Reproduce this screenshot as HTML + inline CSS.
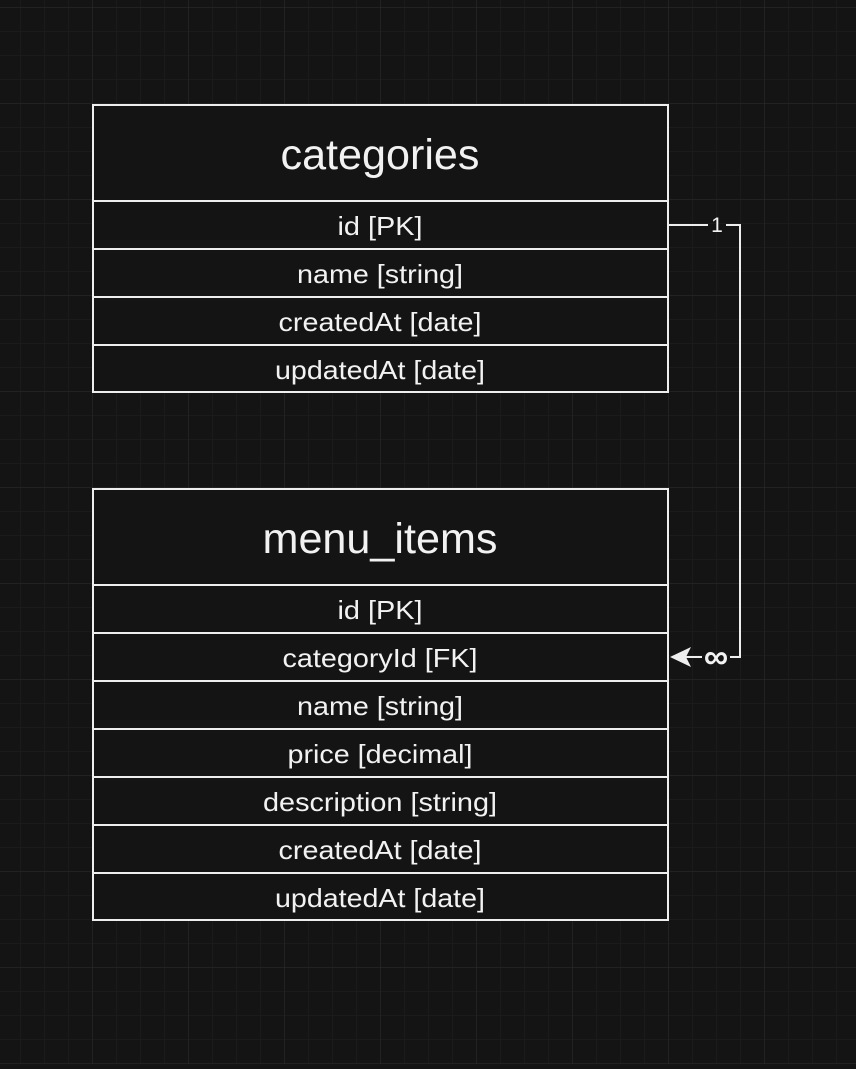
<!DOCTYPE html>
<html><head><style>
body{margin:0;width:856px;height:1064px;overflow:hidden;background:#141414;font-family:"Liberation Sans",sans-serif;}
</style></head><body>
<svg width="856" height="1064" xmlns="http://www.w3.org/2000/svg">
<defs>
<pattern id="minor" x="20" y="7" width="24" height="24" patternUnits="userSpaceOnUse">
<path d="M0 0H24M0 0V24" stroke="#1d1d1d" stroke-width="1.5" fill="none"/>
</pattern>
<pattern id="major" x="-4" y="7" width="96" height="96" patternUnits="userSpaceOnUse">
<path d="M0 0H96M0 0V96" stroke="#2a2a2a" stroke-width="1" fill="none"/>
</pattern>
</defs>
<rect width="856" height="1064" fill="#141414"/>
<rect width="856" height="1064" fill="url(#minor)"/>
<rect width="856" height="1064" fill="url(#major)"/>
<g stroke="#eeeeee" stroke-width="2" fill="#141414">
<rect x="93" y="105" width="575" height="287"/>
<path d="M93 201H668M93 249H668M93 297H668M93 345H668" fill="none"/>
<rect x="93" y="489" width="575" height="431"/>
<path d="M93 585H668M93 633H668M93 681H668M93 729H668M93 777H668M93 825H668M93 873H668" fill="none"/>
<path d="M669 225H708M726 225H740V657H730M702 657H684" fill="none"/>
</g>
<path d="M670 657L691 647L686 657L691 667Z" fill="#eeeeee"/>
<g fill="#f2f2f2" text-anchor="middle" font-family="Liberation Sans, sans-serif">
<text x="380" y="169" font-size="43" textLength="199" lengthAdjust="spacingAndGlyphs">categories</text>
<text x="380" y="235" font-size="26" textLength="85" lengthAdjust="spacingAndGlyphs">id [PK]</text>
<text x="380" y="283" font-size="26" textLength="166" lengthAdjust="spacingAndGlyphs">name [string]</text>
<text x="380" y="331" font-size="26" textLength="203" lengthAdjust="spacingAndGlyphs">createdAt [date]</text>
<text x="380" y="379" font-size="26" textLength="210" lengthAdjust="spacingAndGlyphs">updatedAt [date]</text>
<text x="380" y="553" font-size="43" textLength="235" lengthAdjust="spacingAndGlyphs">menu_items</text>
<text x="380" y="619" font-size="26" textLength="85" lengthAdjust="spacingAndGlyphs">id [PK]</text>
<text x="380" y="667" font-size="26" textLength="195" lengthAdjust="spacingAndGlyphs">categoryId [FK]</text>
<text x="380" y="715" font-size="26" textLength="166" lengthAdjust="spacingAndGlyphs">name [string]</text>
<text x="380" y="763" font-size="26" textLength="185" lengthAdjust="spacingAndGlyphs">price [decimal]</text>
<text x="380" y="811" font-size="26" textLength="234" lengthAdjust="spacingAndGlyphs">description [string]</text>
<text x="380" y="859" font-size="26" textLength="203" lengthAdjust="spacingAndGlyphs">createdAt [date]</text>
<text x="380" y="907" font-size="26" textLength="210" lengthAdjust="spacingAndGlyphs">updatedAt [date]</text>
<text x="717" y="232" font-size="21">1</text>
<text x="716" y="668" font-size="34" font-weight="bold">∞</text>
</g>
</svg>
</body></html>
